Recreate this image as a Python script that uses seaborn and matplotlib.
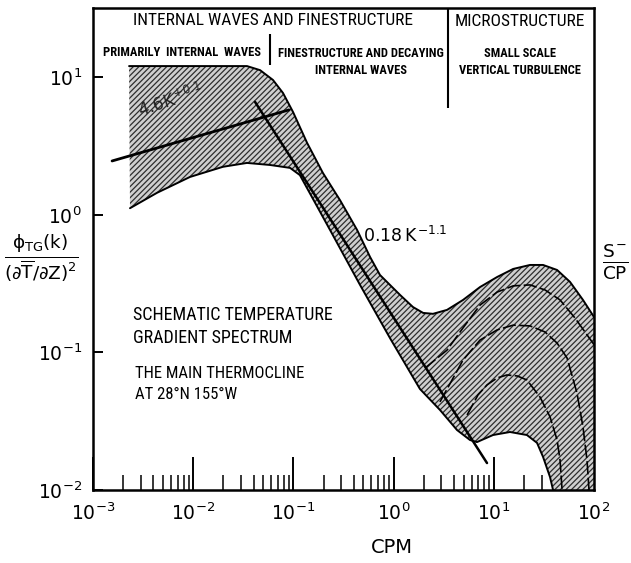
import matplotlib
matplotlib.use('Agg')
import matplotlib.pyplot as plt
from matplotlib.ticker import LogLocator, NullLocator
import seaborn as sns

# spectrum band, upper and lower edges (CPM, normalised spectrum)
k_up = [0.00229, 0.0117, 0.0344, 0.0465, 0.0625, 0.0787, 0.0991, 0.137, 0.197, 0.292,
        0.432, 0.581, 0.731, 1.16, 1.56, 1.97, 2.47, 3.41, 4.93, 7.28, 10.8, 15.6,
        23.0, 31.0, 42.8, 57.6, 77.6, 100]
y_up = [12.1, 12.1, 12.1, 11.3, 9.59, 7.71, 5.61, 3.34, 2.02, 1.28, 0.778, 0.496,
        0.366, 0.262, 0.214, 0.194, 0.191, 0.204, 0.241, 0.299, 0.354, 0.405, 0.433,
        0.433, 0.398, 0.326, 0.241, 0.181]
k_lo = [0.00234, 0.00436, 0.00929, 0.0198, 0.0344, 0.0583, 0.0925, 0.116, 0.232, 0.462,
        0.921, 1.83, 2.90, 4.29, 5.78, 6.79, 9.82, 14.5, 21.4, 27.0, 31.0, 36.4, 39.0]
y_lo = [1.12, 1.45, 1.89, 2.24, 2.39, 2.31, 2.20, 1.95, 0.778, 0.310, 0.127, 0.0543,
        0.0382, 0.0273, 0.0231, 0.0223, 0.0251, 0.0264, 0.0251, 0.0220, 0.0174, 0.0124, 0.01]

# inner microstructure curves
k_b = [2.06, 3.41, 4.93, 7.28, 10.8, 15.6, 23.0, 32.4, 45.8, 64.6, 100]
y_b = [0.0771, 0.104, 0.151, 0.221, 0.275, 0.305, 0.310, 0.285, 0.241, 0.178, 0.114]
k_c = [2.90, 3.83, 4.93, 7.28, 10.8, 15.6, 23.0, 32.4, 42.8, 53.8, 67.6, 77.6, 85.1, 89.1]
y_c = [0.0437, 0.0631, 0.0881, 0.123, 0.146, 0.158, 0.156, 0.141, 0.117, 0.0912,
       0.0507, 0.0287, 0.0165, 0.01]
k_d = [5.41, 6.95, 8.55, 10.8, 13.5, 17.1, 21.4, 28.9, 36.4, 42.8, 45.8, 48.0]
y_d = [0.0351, 0.0491, 0.0581, 0.0653, 0.0686, 0.0675, 0.0631, 0.0474, 0.0340,
       0.0231, 0.0165, 0.01]

# power-law fits (end points)
k_fit1 = [0.00155, 0.0904]
y_fit1 = [2.47, 5.81]
k_fit2 = [0.0414, 8.55]
y_fit2 = [6.64, 0.0157]

# region dividers
k_div_micro = 3.49
k_div_fine = 0.0585

sns.set_theme(style='white')
plt.rcParams['font.family'] = ['DejaVu Sans']
plt.rcParams['hatch.linewidth'] = 0.9
plt.rcParams['mathtext.fontset'] = 'custom'
plt.rcParams['mathtext.rm'] = 'DejaVu Sans'
plt.rcParams['mathtext.it'] = 'DejaVu Sans'
plt.rcParams['mathtext.bf'] = 'DejaVu Sans:bold'

fig = plt.figure(figsize=(6.31, 5.63), dpi=100)
ax = fig.add_axes([0.1474, 0.1297, 0.7940, 0.8561])
ax.set_xscale('log')
ax.set_yscale('log')
ax.set_xlim(1e-3, 1e2)
ax.set_ylim(1e-2, 32)

# hatched band
poly_k = k_up + [100] + k_lo[::-1]
poly_y = y_up + [0.01] + y_lo[::-1]
ax.fill(poly_k, poly_y, facecolor='#cfcfcf', edgecolor='#2e2e2e', hatch='//////',
        linewidth=0, zorder=1)

line_kw = dict(sort=False, estimator=None, ax=ax, color='black', legend=False)
sns.lineplot(x=k_up, y=y_up, lw=1.4, **line_kw)
sns.lineplot(x=k_lo, y=y_lo, lw=1.4, **line_kw)
for kk, yy in [(k_b, y_b), (k_c, y_c), (k_d, y_d)]:
    sns.lineplot(x=kk, y=yy, lw=1.2, **line_kw)
    ax.lines[-1].set_linestyle((0, (8, 2)))
sns.lineplot(x=k_fit1, y=y_fit1, lw=2.0, **line_kw)
sns.lineplot(x=k_fit2, y=y_fit2, lw=1.8, **line_kw)

ax.vlines(k_div_micro, 6.0, 32, color='black', lw=1.5)
ax.vlines(k_div_fine, 12.3, 20.7, color='black', lw=1.5)

for s in ax.spines.values():
    s.set_color('black')
    s.set_linewidth(1.8)

ax.xaxis.set_major_locator(LogLocator(base=10, numticks=10))
ax.xaxis.set_minor_locator(LogLocator(base=10, subs=range(2, 10), numticks=10))
ax.yaxis.set_major_locator(LogLocator(base=10, numticks=10))
ax.yaxis.set_minor_locator(NullLocator())
ax.tick_params(axis='x', which='major', direction='in', length=24, width=1.4,
               bottom=True, top=False, pad=9, labelsize=13.5, colors='black')
ax.tick_params(axis='x', which='minor', direction='in', length=11, width=1.3,
               bottom=True, top=False)
ax.tick_params(axis='y', which='major', direction='in', length=7, width=1.4,
               left=True, right=False, pad=8, labelsize=13.5, colors='black')

# text
narrow = ['Liberation Sans Narrow', 'Roboto Condensed', 'Roboto', 'DejaVu Sans']
cond = dict(family=narrow, color='black')
ax.text(0.359, 0.975, 'INTERNAL WAVES AND FINESTRUCTURE', transform=ax.transAxes,
        ha='center', va='center', fontsize=12.5, **cond)
ax.text(0.852, 0.971, 'MICROSTRUCTURE', transform=ax.transAxes,
        ha='center', va='center', fontsize=12.5, **cond)
ax.text(0.178, 0.907, 'PRIMARILY  INTERNAL  WAVES', transform=ax.transAxes,
        ha='center', va='center', fontsize=9, fontweight='bold', **cond)
ax.text(0.535, 0.888, 'FINESTRUCTURE AND DECAYING\nINTERNAL WAVES', transform=ax.transAxes,
        ha='center', va='center', fontsize=9, fontweight='bold', linespacing=1.35, **cond)
ax.text(0.852, 0.888, 'SMALL SCALE\nVERTICAL TURBULENCE', transform=ax.transAxes,
        ha='center', va='center', fontsize=9, fontweight='bold', linespacing=1.35, **cond)
ax.text(0.080, 0.340, 'SCHEMATIC TEMPERATURE\nGRADIENT SPECTRUM', transform=ax.transAxes,
        ha='left', va='center', fontsize=13, linespacing=1.35, **cond)
ax.text(0.084, 0.220, 'THE MAIN THERMOCLINE\nAT 28°N 155°W', transform=ax.transAxes,
        ha='left', va='center', fontsize=12, linespacing=1.5, **cond)
ax.text(0.155, 0.808, r'$4.6K^{+0.1}$', transform=ax.transAxes, rotation=18,
        ha='center', va='center', fontsize=12, color='#222222')
ax.text(0.623, 0.527, r'$0.18\,K^{-1.1}$', transform=ax.transAxes,
        ha='center', va='center', fontsize=12.5, color='black')

fig.text(0.066, 0.542, r'$\frac{\phi_{TG}(k)}{(\partial\overline{T}/\partial Z)^2}$',
         ha='center', va='center', fontsize=19, color='black')
fig.text(0.975, 0.535, r'$\frac{S^{-}}{CP}$', ha='center', va='center',
         fontsize=19, color='black')
fig.text(0.621, 0.028, 'CPM', ha='center', va='center', fontsize=14, color='black')

fig.savefig('out.png', dpi=100, facecolor='white')
